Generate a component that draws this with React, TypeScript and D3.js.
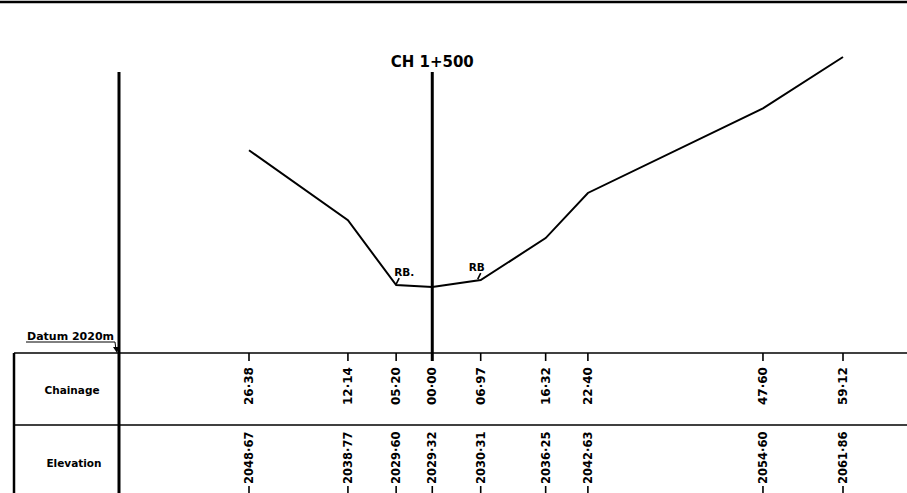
import React from "react";
import * as d3 from "d3";

// Offsets from the centre line CH 1+500 (negative = left), metres
const chainageOffsets = [-26.38, -12.14, -5.2, 0, 6.97, 16.32, 22.4, 47.6, 59.12];
// Ground elevations at each offset, metres
const elevations = [2048.67, 2038.77, 2029.6, 2029.32, 2030.31, 2036.25, 2042.63, 2054.6, 2061.86];
// Indices of points marked as river banks
const riverBankIdx = [2, 4];
const datum = 2020;

const W = 907;
const H = 493;
const FONT = "'DejaVu Sans', 'Liberation Sans', sans-serif";

export default function App() {
  const x = d3.scaleLinear().domain([-26.38, 59.12]).range([249, 843]);
  const y = d3.scaleLinear().domain([datum, 2062]).range([353, 56]);

  const fmtCh = (v: number) => d3.format("05.2f")(Math.abs(v)).replace(".", "·");
  const fmtEl = (v: number) => d3.format(".2f")(v).replace(".", "·");

  const line = d3
    .line<number>()
    .x((_, i) => x(chainageOffsets[i]))
    .y((d) => y(d));

  const datumY = y(datum);
  const rowY = 425;
  const cx = x(0);

  return (
    <svg
      width={W}
      height={H}
      style={{ position: "fixed", left: 0, top: 0, background: "#fff" }}
      fontFamily={FONT}
    >
      <rect x={0} y={0} width={W} height={H} fill="#fff" />
      {/* top frame line */}
      <line x1={0} x2={W} y1={2} y2={2} stroke="#000" strokeWidth={2.5} />

      {/* left vertical frame line */}
      <line x1={119} x2={119} y1={72} y2={H} stroke="#000" strokeWidth={3} />
      {/* table left border */}
      <line x1={14} x2={14} y1={datumY} y2={H} stroke="#000" strokeWidth={2.5} />
      {/* datum line & row divider */}
      <line x1={14} x2={W} y1={datumY} y2={datumY} stroke="#000" strokeWidth={1.6} />
      <line x1={14} x2={W} y1={rowY} y2={rowY} stroke="#000" strokeWidth={1.6} />

      {/* centre line */}
      <line x1={cx} x2={cx} y1={72} y2={datumY + 8} stroke="#000" strokeWidth={3} />
      <text
        x={cx}
        y={67}
        textAnchor="middle"
        fontSize={15}
        fontWeight="bold"
        fill="#000"
      >
        CH 1+500
      </text>

      {/* datum label */}
      <text x={27} y={340} fontSize={11} fontWeight="bold" fill="#000">
        Datum 2020m
      </text>
      <polyline
        points={`26,342 115,342 116,350`}
        fill="none"
        stroke="#000"
        strokeWidth={1}
      />
      <path d={`M113,347 L119,347 L117,353 Z`} fill="#000" />

      {/* row titles */}
      <text x={72} y={394} textAnchor="middle" fontSize={10.5} fontWeight="bold" fill="#000">
        Chainage
      </text>
      <text x={74} y={467} textAnchor="middle" fontSize={10.5} fontWeight="bold" fill="#000">
        Elevation
      </text>

      {/* ground profile */}
      <path d={line(elevations) || ""} fill="none" stroke="#000" strokeWidth={2} />

      {/* river bank marks */}
      {riverBankIdx.map((i, k) => {
        const px = x(chainageOffsets[i]);
        const py = y(elevations[i]);
        return (
          <g key={`rb${k}`}>
            <text
              x={px - 2 + (k === 1 ? -10 : 0)}
              y={py - 9}
              fontSize={10.5}
              fontWeight="bold"
              fill="#000"
            >
              {k === 0 ? "RB." : "RB"}
            </text>
            <line
              x1={px + 3 + (k === 1 ? -3 : 0)}
              y1={py - 7}
              x2={px + (k === 1 ? -3 : 0)}
              y2={py - 1}
              stroke="#000"
              strokeWidth={1.6}
            />
          </g>
        );
      })}

      {/* chainage ticks & labels */}
      {chainageOffsets.map((c, i) => {
        const px = x(c);
        return (
          <g key={`c${i}`}>
            <line x1={px} x2={px} y1={datumY} y2={datumY + 8} stroke="#000" strokeWidth={1.6} />
            <text
              transform={`translate(${px},${386}) rotate(-90)`}
              textAnchor="middle"
              dominantBaseline="central"
              fontSize={12}
              fontWeight="bold"
              fill="#000"
            >
              {fmtCh(c)}
            </text>
          </g>
        );
      })}

      {/* elevation labels */}
      {elevations.map((e, i) => {
        const px = x(chainageOffsets[i]);
        return (
          <g key={`e${i}`}>
            <line x1={px} x2={px} y1={486} y2={H} stroke="#000" strokeWidth={1.6} />
            <text
              transform={`translate(${px},${484}) rotate(-90)`}
              textAnchor="start"
              dominantBaseline="central"
              fontSize={11.5}
              fontWeight="bold"
              fill="#000"
            >
              {fmtEl(e)}
            </text>
          </g>
        );
      })}
    </svg>
  );
}
